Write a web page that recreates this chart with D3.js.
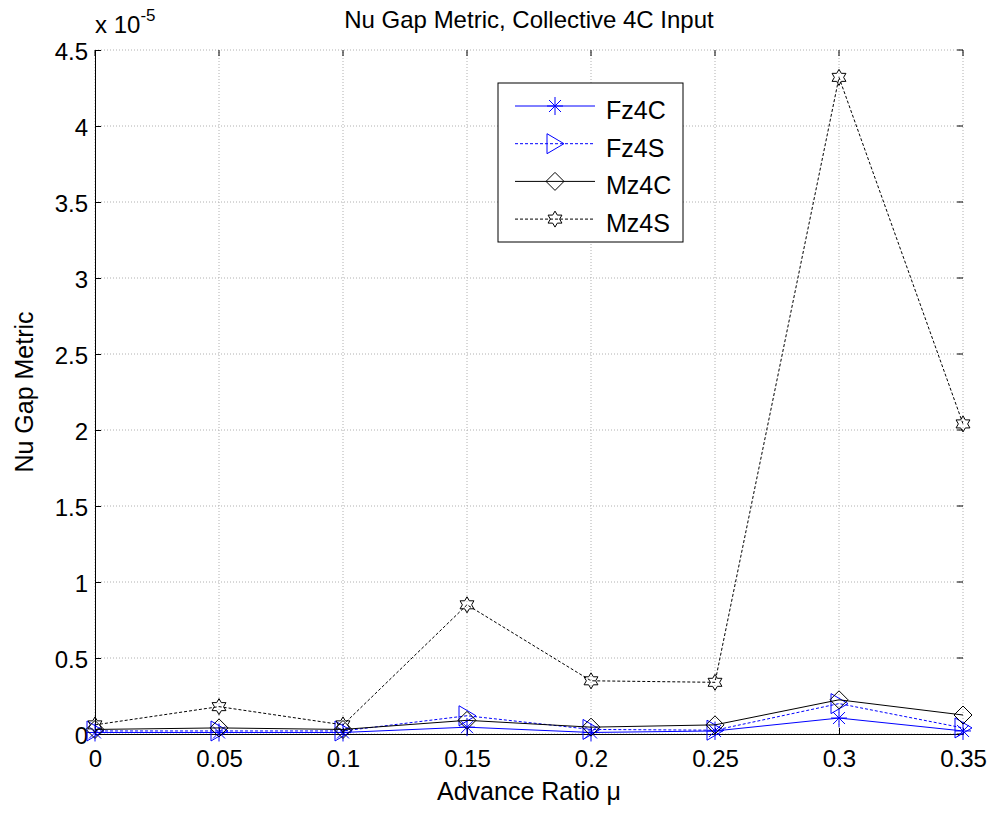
<html>
<head>
<script src="https://d3js.org/d3.v7.min.js"></script>
<style>
  body { margin: 0; background: #fff; }
  text { font-family: "Liberation Sans", Arial, sans-serif; }
</style>
</head>
<body>
<div id="vis"></div>
<script>
// data (values x 1e-5)
const mu = [0, 0.05, 0.1, 0.15, 0.2, 0.25, 0.3, 0.35]
const fz4c = [0.01, 0.01, 0.01, 0.045, 0.01, 0.02, 0.105, 0.02]
const fz4s = [0.02, 0.02, 0.02, 0.12, 0.03, 0.025, 0.2, 0.04]
const mz4c = [0.03, 0.04, 0.03, 0.09, 0.045, 0.06, 0.225, 0.125]
const mz4s = [0.06, 0.18, 0.06, 0.85, 0.35, 0.34, 4.32, 2.04]
const xTicks = [0, 0.05, 0.1, 0.15, 0.2, 0.25, 0.3, 0.35]
const yTicks = [0, 0.5, 1, 1.5, 2, 2.5, 3, 3.5, 4, 4.5]

const series = [
  { name: 'Fz4C', values: fz4c, color: '#0000ff', dash: null, marker: 'star' },
  { name: 'Fz4S', values: fz4s, color: '#0000ff', dash: '3,2', marker: 'triangle' },
  { name: 'Mz4C', values: mz4c, color: '#000000', dash: null, marker: 'diamond' },
  { name: 'Mz4S', values: mz4s, color: '#000000', dash: '3,2', marker: 'hexagram' }
]

const W = 995, H = 814
const svg = d3.select('#vis').append('svg').attr('width', W).attr('height', H)

const x = d3.scaleLinear().domain([0, 0.35]).range([95, 963])
const y = d3.scaleLinear().domain([0, 4.5]).range([734, 50])

// grid
const grid = svg.append('g').attr('stroke', '#b0b0b0').attr('stroke-dasharray', '1,2').attr('stroke-width', 1)
xTicks.forEach(t => {
  grid.append('line').attr('x1', x(t)).attr('x2', x(t)).attr('y1', y(0)).attr('y2', y(4.5))
})
yTicks.forEach(t => {
  grid.append('line').attr('x1', x(0)).attr('x2', x(0.35)).attr('y1', y(t)).attr('y2', y(t))
})

// axes
const xAxis = svg.append('g').attr('transform', `translate(0,${y(0)})`)
  .call(d3.axisBottom(x).tickValues(xTicks).tickSize(-6).tickPadding(16).tickFormat(d3.format('')))
const yAxis = svg.append('g').attr('transform', `translate(${x(0)},0)`)
  .call(d3.axisLeft(y).tickValues(yTicks).tickSize(-6).tickPadding(7).tickFormat(d3.format('')))
;[xAxis, yAxis].forEach(g => {
  g.select('.domain').attr('stroke', '#000')
  g.selectAll('.tick text').attr('font-size', 24).attr('fill', '#000')
    .style('font-family', '"Liberation Sans", Arial, sans-serif')
  g.selectAll('.tick line').attr('stroke', '#000')
})
yAxis.selectAll('.tick text').attr('dy', '0.4em')
// ticks on top and right
xTicks.forEach(t => {
  svg.append('line').attr('x1', x(t)).attr('x2', x(t)).attr('y1', y(4.5)).attr('y2', y(4.5) + 6).attr('stroke', '#000')
})
yTicks.forEach(t => {
  svg.append('line').attr('x1', x(0.35)).attr('x2', x(0.35) - 6).attr('y1', y(t)).attr('y2', y(t)).attr('stroke', '#000')
})

// marker shapes
function marker(type, cx, cy) {
  if (type === 'star') {
    const s = 8, d = 6
    return `M${cx - s},${cy}L${cx + s},${cy}M${cx},${cy - s - 1}L${cx},${cy + s + 1}` +
      `M${cx - d},${cy - d}L${cx + d},${cy + d}M${cx - d},${cy + d}L${cx + d},${cy - d}`
  }
  if (type === 'triangle') {
    return `M${cx - 8},${cy - 10}L${cx + 9},${cy}L${cx - 8},${cy + 10}Z`
  }
  if (type === 'diamond') {
    const s = 9
    return `M${cx},${cy - s}L${cx + s},${cy}L${cx},${cy + s}L${cx - s},${cy}Z`
  }
  // hexagram
  const pts = []
  for (let i = 0; i < 12; i++) {
    const a = -Math.PI / 2 + i * Math.PI / 6
    const r = i % 2 === 0 ? 8 : 8 * 0.58
    pts.push([cx + r * Math.cos(a), cy + r * Math.sin(a)])
  }
  return 'M' + pts.map(p => p.join(',')).join('L') + 'Z'
}

const line = d3.line().x((d, i) => x(mu[i])).y(d => y(d))

series.forEach(s => {
  svg.append('path').attr('d', line(s.values)).attr('fill', 'none')
    .attr('stroke', s.color).attr('stroke-width', 1)
    .attr('stroke-dasharray', s.dash)
  svg.append('g').selectAll('path').data(s.values).join('path')
    .attr('d', (d, i) => marker(s.marker, x(mu[i]), y(d)))
    .attr('fill', 'none').attr('stroke', s.color).attr('stroke-width', 1)
})

// title and labels
svg.append('text').attr('x', 529).attr('y', 28).attr('text-anchor', 'middle')
  .attr('font-size', 24).text('Nu Gap Metric, Collective 4C Input')
svg.append('text').attr('x', 529).attr('y', 800).attr('text-anchor', 'middle')
  .attr('font-size', 25).text('Advance Ratio μ')
svg.append('text').attr('transform', 'translate(33,392) rotate(-90)').attr('text-anchor', 'middle')
  .attr('font-size', 25).text('Nu Gap Metric')
const ex = svg.append('text').attr('x', 95).attr('y', 33).attr('font-size', 24)
ex.append('tspan').text('x 10')
ex.append('tspan').attr('dy', -12).attr('font-size', 17).text('-5')

// legend
const lg = svg.append('g')
lg.append('rect').attr('x', 498).attr('y', 83).attr('width', 185).attr('height', 159)
  .attr('fill', '#fff').attr('stroke', '#000').attr('stroke-width', 1)
series.forEach((s, i) => {
  const ly = 106 + i * 37.7
  lg.append('line').attr('x1', 515).attr('x2', 595).attr('y1', ly).attr('y2', ly)
    .attr('stroke', s.color).attr('stroke-dasharray', s.dash).attr('stroke-width', 1)
  lg.append('path').attr('d', marker(s.marker, 555, ly))
    .attr('fill', 'none').attr('stroke', s.color)
  lg.append('text').attr('x', 606).attr('y', ly + 13).attr('font-size', 25).text(s.name)
})
</script>
</body>
</html>
